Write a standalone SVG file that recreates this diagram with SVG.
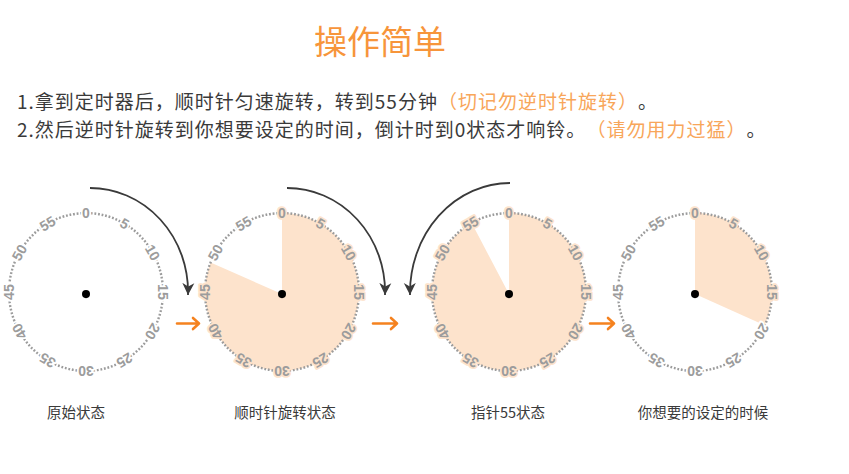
<svg xmlns="http://www.w3.org/2000/svg" width="849" height="474" viewBox="0 0 849 474">
<style>
text{text-spacing-trim:space-all}
.title{font-family:"Noto Sans CJK SC","Noto Sans",sans-serif;font-size:33px;fill:#f7953b}
.line{font-family:"Noto Sans CJK SC","Noto Sans",sans-serif;font-size:19px;fill:#3a3a3a;letter-spacing:1px}
.hl{fill:#f8a65a}
.lbl{font-family:"Noto Sans CJK SC","Noto Sans",sans-serif;font-size:14.5px;fill:#3a3a3a;text-anchor:middle}
.ring{fill:none;stroke:#9c9c9c;stroke-width:2.4;stroke-dasharray:1.8 1.8}
.num{font-family:"Liberation Sans",Arial,sans-serif;font-weight:bold;font-size:14px;fill:#9c9c9c;text-anchor:middle;stroke:#fff;stroke-width:3.5;paint-order:stroke;stroke-linejoin:round}
.num.in{stroke:#fde3cc}
.fill{fill:#fde3cc}
.dot{fill:#000}
.curve{fill:none;stroke:#3a3a3a;stroke-width:1.8}
.go{fill:none;stroke:#f5821f;stroke-width:2.6;stroke-linecap:round;stroke-linejoin:round}
</style>
<defs>
<marker id="ah" markerUnits="userSpaceOnUse" markerWidth="14" markerHeight="14" viewBox="0 0 14 12" refX="12" refY="6" orient="auto">
<path d="M0,0 L12,6 L0,12 L3.5,6 Z" fill="#3a3a3a"/>
</marker>
</defs>

<text class="title" x="380" y="54" text-anchor="middle">操作简单</text>
<text class="line" x="17" y="109">1.拿到定时器后，顺时针匀速旋转，转到55分钟<tspan class="hl">（切记勿逆时针旋转）</tspan>。</text>
<text class="line" x="17" y="137">2.然后逆时针旋转到你想要设定的时间，倒计时到0状态才响铃。<tspan class="hl">（请勿用力过猛）</tspan>。</text>

<g id="dial1" transform="translate(86,292) scale(1,1.025)">
<circle class="ring" r="77"/>
<g class="nums">
<text class="num" y="-72">0</text>
<text class="num" y="-72" transform="rotate(30)">5</text>
<text class="num" y="-72" transform="rotate(60)">10</text>
<text class="num" y="-72" transform="rotate(90)">15</text>
<text class="num" y="-72" transform="rotate(120)">20</text>
<text class="num" y="-72" transform="rotate(150)">25</text>
<text class="num" y="-72" transform="rotate(180)">30</text>
<text class="num" y="-72" transform="rotate(210)">35</text>
<text class="num" y="-72" transform="rotate(240)">40</text>
<text class="num" y="-72" transform="rotate(270)">45</text>
<text class="num" y="-72" transform="rotate(300)">50</text>
<text class="num" y="-72" transform="rotate(330)">55</text>
</g>
<circle class="dot" cx="0" cy="2" r="4"/>
</g>

<g id="dial2" transform="translate(282,292) scale(1,1.025)">
<path class="fill" d="M0,2 L0,-77 A77,77 0 1 1 -71.4,-28.8 Z"/>
<circle class="ring" r="77"/>
<g class="nums">
<text class="num in" y="-72">0</text>
<text class="num in" y="-72" transform="rotate(30)">5</text>
<text class="num in" y="-72" transform="rotate(60)">10</text>
<text class="num in" y="-72" transform="rotate(90)">15</text>
<text class="num in" y="-72" transform="rotate(120)">20</text>
<text class="num in" y="-72" transform="rotate(150)">25</text>
<text class="num in" y="-72" transform="rotate(180)">30</text>
<text class="num in" y="-72" transform="rotate(210)">35</text>
<text class="num in" y="-72" transform="rotate(240)">40</text>
<text class="num in" y="-72" transform="rotate(270)">45</text>
<text class="num" y="-72" transform="rotate(300)">50</text>
<text class="num" y="-72" transform="rotate(330)">55</text>
</g>
<circle class="dot" cx="0" cy="2" r="4"/>
</g>

<g id="dial3" transform="translate(509,292) scale(1,1.025)">
<path class="fill" d="M0,2 L0,-77 A77,77 0 1 1 -37.3,-67.3 Z"/>
<circle class="ring" r="77"/>
<g class="nums">
<text class="num in" y="-72">0</text>
<text class="num in" y="-72" transform="rotate(30)">5</text>
<text class="num in" y="-72" transform="rotate(60)">10</text>
<text class="num in" y="-72" transform="rotate(90)">15</text>
<text class="num in" y="-72" transform="rotate(120)">20</text>
<text class="num in" y="-72" transform="rotate(150)">25</text>
<text class="num in" y="-72" transform="rotate(180)">30</text>
<text class="num in" y="-72" transform="rotate(210)">35</text>
<text class="num in" y="-72" transform="rotate(240)">40</text>
<text class="num in" y="-72" transform="rotate(270)">45</text>
<text class="num in" y="-72" transform="rotate(300)">50</text>
<text class="num in" y="-72" transform="rotate(330)">55</text>
</g>
<circle class="dot" cx="0" cy="2" r="4"/>
</g>

<g id="dial4" transform="translate(695,292) scale(1,1.025)">
<path class="fill" d="M0,2 L0,-77 A77,77 0 0 1 69.8,32.5 Z"/>
<circle class="ring" r="77"/>
<g class="nums">
<text class="num in" y="-72">0</text>
<text class="num in" y="-72" transform="rotate(30)">5</text>
<text class="num in" y="-72" transform="rotate(60)">10</text>
<text class="num in" y="-72" transform="rotate(90)">15</text>
<text class="num" y="-72" transform="rotate(120)">20</text>
<text class="num" y="-72" transform="rotate(150)">25</text>
<text class="num" y="-72" transform="rotate(180)">30</text>
<text class="num" y="-72" transform="rotate(210)">35</text>
<text class="num" y="-72" transform="rotate(240)">40</text>
<text class="num" y="-72" transform="rotate(270)">45</text>
<text class="num" y="-72" transform="rotate(300)">50</text>
<text class="num" y="-72" transform="rotate(330)">55</text>
</g>
<circle class="dot" cx="0" cy="2" r="4"/>
</g>

<g id="connectors">
<path class="curve" d="M90,188 A98,104 0 0 1 188,295" marker-end="url(#ah)"/>
<path class="curve" d="M287,188 A98,104 0 0 1 385,295" marker-end="url(#ah)"/>
<path class="curve" d="M510,183 A100,110 0 0 0 410,295" marker-end="url(#ah)"/>
<path class="go" d="M177,323.5 H199 M193,318 L199,323.5 L193,329"/>
<path class="go" d="M373,323.5 H397 M391,318 L397,323.5 L391,329"/>
<path class="go" d="M590,323.5 H614 M608,318 L614,323.5 L608,329"/>
</g>

<text class="lbl" x="76" y="418">原始状态</text>
<text class="lbl" x="285" y="418">顺时针旋转状态</text>
<text class="lbl" x="508" y="418">指针55状态</text>
<text class="lbl" x="703" y="418">你想要的设定的时候</text>
</svg>
